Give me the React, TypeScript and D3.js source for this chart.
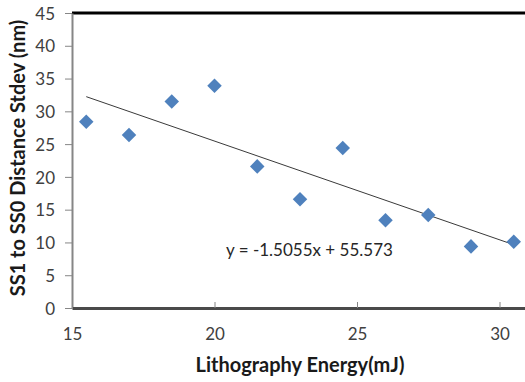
import React, { useRef, useEffect } from "react";
import * as d3 from "d3";

// energy (mJ) vs SS1-SS0 distance stdev (nm)
const energy = [15.5, 17, 18.5, 20, 21.5, 23, 24.5, 26, 27.5, 29, 30.5];
const stdev = [28.4, 26.4, 31.5, 33.9, 21.6, 16.6, 24.4, 13.4, 14.2, 9.4, 10.1];
const xTicks = [15, 20, 25, 30];
const yTicks = [0, 5, 10, 15, 20, 25, 30, 35, 40, 45];
const slope = -1.5055;
const intercept = 55.573;

const App: React.FC = () => {
    const svgRef = useRef<SVGSVGElement | null>(null);

    useEffect(() => {
        const width = 525;
        const height = 382;
        const svg = d3.select(svgRef.current).attr("width", width).attr("height", height);
        svg.selectAll("*").remove();

        const font = "Lato, 'Open Sans', sans-serif";

        // plot area runs on past the right edge of the picture (x up to 35)
        const x = d3.scaleLinear().domain([15, 35]).range([72, 642]);
        const y = d3.scaleLinear().domain([0, 45]).range([308, 13]);

        // top border
        svg.append("line")
            .attr("x1", 72).attr("x2", width)
            .attr("y1", y(45)).attr("y2", y(45))
            .attr("stroke", "#000").attr("stroke-width", 3);

        // y axis
        const yAxis = d3.axisLeft(y).tickValues(yTicks).tickSize(7).tickSizeOuter(0);
        const gy = svg.append("g").attr("transform", `translate(${x(15)},0)`).call(yAxis);
        gy.select(".domain").attr("stroke", "#868686").attr("stroke-width", 2);
        gy.selectAll(".tick line").attr("stroke", "#868686");
        gy.selectAll(".tick text")
            .attr("x", -17)
            .attr("dy", "0.36em")
            .style("font-family", font)
            .style("font-size", "17px")
            .attr("fill", "#404040");

        // x axis, ticks pointing up into the plot
        const xAxis = d3.axisBottom(x).tickValues(xTicks).tickSize(-6).tickSizeOuter(0);
        const gx = svg.append("g").attr("transform", `translate(0,${y(0)})`).call(xAxis);
        gx.select(".domain").attr("stroke", "#4a4a4a").attr("stroke-width", 3);
        gx.selectAll(".tick line").attr("stroke", "#868686");
        gx.selectAll(".tick text")
            .attr("y", 20)
            .attr("dy", "0.71em")
            .style("font-family", font)
            .style("font-size", "17px")
            .attr("fill", "#404040");

        // trendline
        const x0 = d3.min(energy) as number;
        const x1 = d3.max(energy) as number;
        svg.append("line")
            .attr("x1", x(x0)).attr("y1", y(slope * x0 + intercept))
            .attr("x2", x(x1)).attr("y2", y(slope * x1 + intercept))
            .attr("stroke", "#3a3a3a")
            .attr("stroke-width", 1);

        // diamonds
        const diamond = d3.symbol().type(d3.symbolDiamond2).size(135);
        svg.selectAll(".pt")
            .data(energy)
            .enter()
            .append("path")
            .attr("class", "pt")
            .attr("d", diamond)
            .attr("transform", (d, i) => `translate(${x(d)},${y(stdev[i])})`)
            .attr("fill", "#4F81BD");

        // equation label
        svg.append("text")
            .attr("x", 226).attr("y", 256)
            .style("font-family", font)
            .style("font-size", "17px")
            .attr("fill", "#262626")
            .text(`y = ${slope}x + ${intercept}`);

        // axis titles
        svg.append("text")
            .attr("x", 300).attr("y", 372)
            .attr("text-anchor", "middle")
            .style("font-family", font)
            .style("font-size", "20px")
            .style("font-weight", "bold")
            .attr("fill", "#1a1a1a")
            .text("Lithography Energy(mJ)");

        svg.append("text")
            .attr("transform", "translate(25,158) rotate(-90)")
            .attr("text-anchor", "middle")
            .style("font-family", font)
            .style("font-size", "20px")
            .style("font-weight", "bold")
            .attr("fill", "#1a1a1a")
            .text("SS1 to SS0 Distance Stdev (nm)");
    }, []);

    return <svg ref={svgRef} style={{ position: "absolute", left: 0, top: 0, background: "#fff" }} />;
};

export default App;
